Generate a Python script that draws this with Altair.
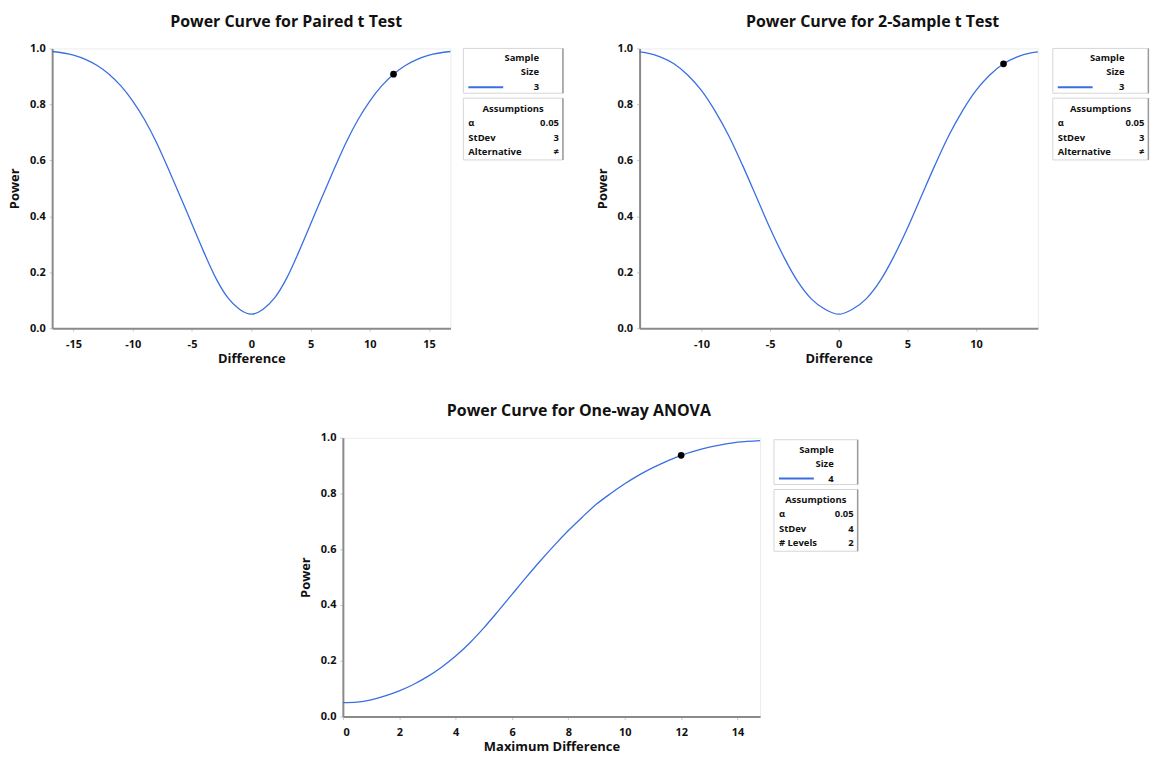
import altair as alt
import pandas as pd

FONT = "Open Sans"
BLUE = "#3a6fe0"

# ---- Power Curve for Paired t Test (sample size 3, StDev 3) ----
paired_diff = [-16.8, -15, -14, -13, -12, -11, -10, -9, -8, -7, -6, -5, -4, -3, -2, -1,
               0, 1, 2, 3, 4, 5, 6, 7, 8, 9, 10, 11, 12, 13, 14, 15, 16.8]
paired_power = [0.989, 0.976, 0.961, 0.939, 0.908, 0.866, 0.812, 0.745, 0.664, 0.570, 0.472,
                0.372, 0.272, 0.180, 0.110, 0.068,
                0.050, 0.068, 0.110, 0.180, 0.272, 0.372, 0.472, 0.570, 0.664, 0.745, 0.812,
                0.866, 0.908, 0.939, 0.961, 0.976, 0.989]
paired_point = [12, 0.908]

# ---- Power Curve for 2-Sample t Test (sample size 3, StDev 3) ----
two_diff = [-14.5, -14, -13, -12, -11, -10, -9, -8, -7, -6, -5, -4, -3, -2, -1,
            0, 1, 2, 3, 4, 5, 6, 7, 8, 9, 10, 11, 12, 13, 14, 14.5]
two_power = [0.988, 0.984, 0.970, 0.945, 0.905, 0.850, 0.776, 0.687, 0.582, 0.470, 0.357,
             0.255, 0.168, 0.105, 0.068,
             0.050, 0.068, 0.105, 0.168, 0.255, 0.357, 0.470, 0.582, 0.687, 0.776, 0.850,
             0.905, 0.945, 0.970, 0.984, 0.988]
two_point = [12, 0.945]

# ---- Power Curve for One-way ANOVA (sample size 4, StDev 4, 2 levels) ----
anova_diff = [0, 0.5, 1, 1.5, 2, 2.5, 3, 3.5, 4, 4.5, 5, 5.5, 6, 6.5, 7, 7.5, 8, 8.5, 9,
              9.5, 10, 10.5, 11, 11.5, 12, 12.5, 13, 13.5, 14, 14.8]
anova_power = [0.050, 0.052, 0.060, 0.074, 0.092, 0.115, 0.143, 0.177, 0.217, 0.264, 0.318,
               0.377, 0.438, 0.499, 0.558, 0.614, 0.667, 0.716, 0.762, 0.800, 0.835, 0.866,
               0.893, 0.916, 0.937, 0.953, 0.966, 0.976, 0.984, 0.990]
anova_point = [12, 0.937]

one = pd.DataFrame({"k": [0]})


def txt(s, x, y, align="left", size=9.5):
    return alt.Chart(one).mark_text(
        text=s, align=align, baseline="middle", fontSize=size, fontWeight="bold",
        font=FONT, color="#111111"
    ).encode(x=alt.value(x), y=alt.value(y))


def box(x0, x1, y0, y1):
    frame = alt.Chart(one).mark_rect(fill="white", stroke="#d6d6d6", strokeWidth=1).encode(
        x=alt.value(x0), x2=alt.value(x1), y=alt.value(y0), y2=alt.value(y1))
    shade = alt.Chart(one).mark_rule(color="#9a9a9a", strokeWidth=1.5).encode(
        x=alt.value(x1), y=alt.value(y0), y2=alt.value(y1))
    return [frame, shade]


def legend(x0, w, y0, n, rows):
    x1 = x0 + w
    layers = box(x0, x1, y0, y0 + 45)
    layers += [
        txt("Sample", x1 - 24, y0 + 10, "right"),
        txt("Size", x1 - 24, y0 + 24, "right"),
        alt.Chart(one).mark_rule(color=BLUE, strokeWidth=2).encode(
            x=alt.value(x0 + 5), x2=alt.value(x0 + 40), y=alt.value(y0 + 39)),
        txt(str(n), x1 - 24, y0 + 39, "right"),
    ]
    a0 = y0 + 50
    layers += box(x0, x1, a0, a0 + 62)
    layers.append(txt("Assumptions", (x0 + x1) / 2, a0 + 11, "center"))
    for i, (label, value) in enumerate(rows):
        yy = a0 + 25 + 14.5 * i
        layers.append(txt(label, x0 + 5, yy, "left"))
        layers.append(txt(value, x1 - 4, yy, "right"))
    return layers


def panel(title, xs, ys, pt, x_title, x_dom, x_ticks, w, h, leg_x, leg_w, leg_y, n, rows):
    df = pd.DataFrame({"d": xs, "p": ys})
    dp = pd.DataFrame({"d": [pt[0]], "p": [pt[1]]})
    x_enc = alt.X("d:Q", title=x_title,
                  scale=alt.Scale(domain=x_dom, nice=False, zero=False),
                  axis=alt.Axis(values=x_ticks, labelExpr="datum.value + ''",
                                labelPadding=7, titlePadding=3))
    y_enc = alt.Y("p:Q", title="Power", scale=alt.Scale(domain=[0, 1], nice=False),
                  axis=alt.Axis(values=[0, 0.2, 0.4, 0.6, 0.8, 1.0], format=".1f"))
    line = alt.Chart(df).mark_line(color=BLUE, strokeWidth=1.3, interpolate="monotone").encode(
        x=x_enc, y=y_enc)
    dot = alt.Chart(dp).mark_point(filled=True, color="black", size=45, opacity=1).encode(
        x="d:Q", y="p:Q")
    layers = [line, dot] + legend(leg_x, leg_w, leg_y, n, rows)
    return alt.layer(*layers).properties(
        width=w, height=h,
        title=alt.TitleParams(title, fontSize=16, fontWeight="bold", font=FONT,
                              color="#111111", offset=13, frame="bounds", anchor="middle"),
    )


t_rows = [("α", "0.05"), ("StDev", "3"), ("Alternative", "≠")]
a_rows = [("α", "0.05"), ("StDev", "4"), ("# Levels", "2")]

c1 = panel("Power Curve for Paired t Test", paired_diff, paired_power, paired_point,
           "Difference", [-16.8, 16.8], [-15, -10, -5, 0, 5, 10, 15],
           400, 281, 413, 100, 0, 3, t_rows)
c2 = panel("Power Curve for 2-Sample t Test", two_diff, two_power, two_point,
           "Difference", [-14.5, 14.5], [-10, -5, 0, 5, 10],
           400, 281, 415, 96, 0, 3, t_rows)
c3 = panel("Power Curve for One-way ANOVA", anova_diff, anova_power, anova_point,
           "Maximum Difference", [0, 14.8], [0, 2, 4, 6, 8, 10, 12, 14],
           419, 280, 433, 84, 2, 4, a_rows)

top = alt.hconcat(c1, c2, spacing=30)
chart = alt.vconcat(top, c3, spacing=36, center=True).properties(
    padding={"left": 8, "top": 11, "right": 0, "bottom": 0}
).configure_view(stroke="#ececec", strokeWidth=1).configure_axis(
    labelFont=FONT, titleFont=FONT, labelFontSize=11, labelFontWeight="bold",
    titleFontSize=13, titleFontWeight="bold", labelColor="#111111", titleColor="#111111",
    domainColor="#8a8a8a", domainWidth=2, tickColor="#c8c8c8", tickSize=3, grid=False,
    labelPadding=4, titlePadding=6,
).configure_axisY(titlePadding=8)

chart.save("out.html", embed_options={"renderer": "svg", "actions": False})
